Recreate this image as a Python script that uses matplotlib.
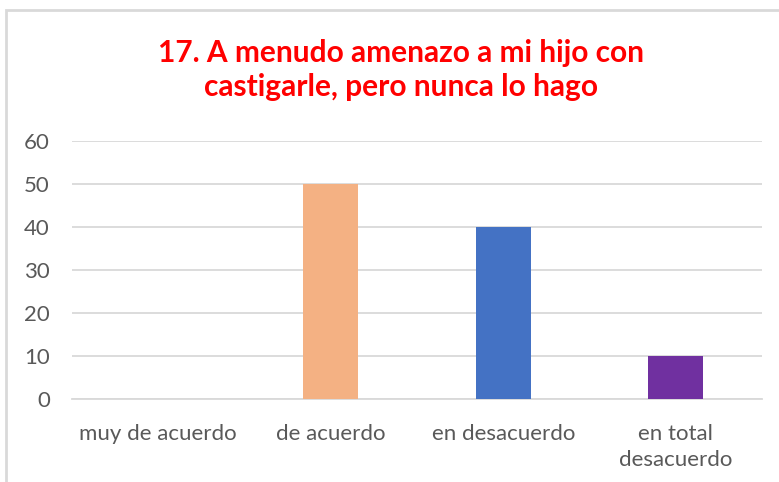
import matplotlib.pyplot as plt
from matplotlib.patches import Rectangle

categorias = ['muy de acuerdo', 'de acuerdo', 'en desacuerdo', 'en total\ndesacuerdo']
valores = [0, 50, 40, 10]
colores = ['#5B9BD5', '#F4B183', '#4472C4', '#7030A0']
titulo = '17. A menudo amenazo a mi hijo con\ncastigarle, pero nunca lo hago'

plt.rcParams['font.family'] = ['Lato', 'DejaVu Sans']

fig = plt.figure(figsize=(7.79, 4.82), dpi=100)
ax = fig.add_axes([72 / 779, 1 - 399 / 482, 690 / 779, 258 / 482])

x = range(len(categorias))
ax.bar(x, valores, width=0.32, color=colores, zorder=3)

ax.set_xlim(-0.5, 3.5)
ax.set_ylim(0, 60)
ax.set_yticks(range(0, 61, 10))
ax.set_xticks(list(x))
ax.set_xticklabels(categorias, color='#595959', fontsize=16, linespacing=1.4)
ax.tick_params(axis='y', colors='#595959', labelsize=16, length=0, pad=16)
ax.tick_params(axis='x', length=0, pad=18)
ax.grid(axis='y', color='#D9D9D9', linewidth=1.3, zorder=0)
for s in ['top', 'right', 'left']:
    ax.spines[s].set_visible(False)
ax.spines['bottom'].set_color('#D9D9D9')
ax.spines['bottom'].set_linewidth(1.3)

fig.text(0.515, 1 - 70 / 482, titulo, ha='center', va='center', color='#FF0000',
         fontsize=21.5, fontweight='bold', linespacing=1.3)

# borde del grafico
fig.patches.append(Rectangle((6 / 779, -0.05), 1.2, 1 - 10 / 482 + 0.05,
                             transform=fig.transFigure, fill=False,
                             edgecolor='#D9D9D9', linewidth=2))

fig.savefig('out.png', dpi=100)
